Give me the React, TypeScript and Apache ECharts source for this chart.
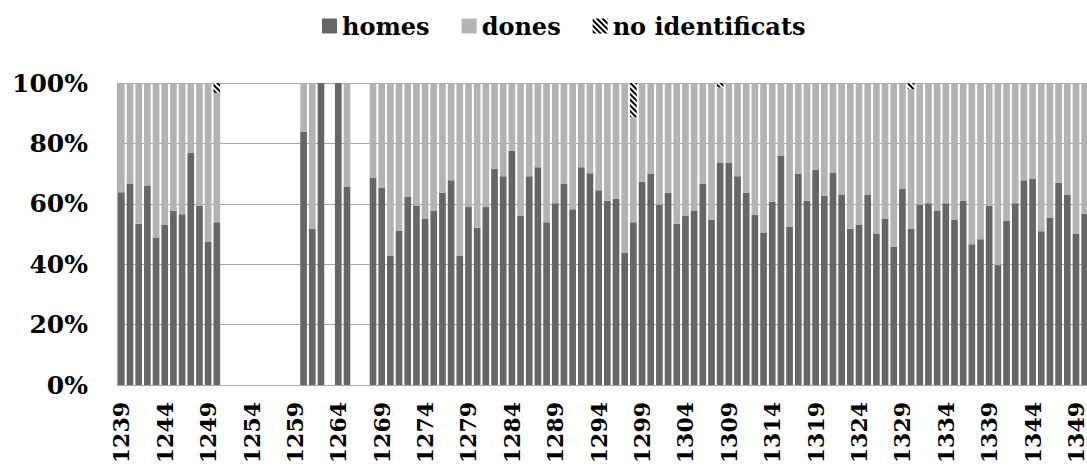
import React, { useEffect, useRef } from "react";
import * as echarts from "echarts";

const years: string[] = [
  "1239","1240","1241","1242","1243","1244","1245","1246","1247","1248",
  "1249","1250","1251","1252","1253","1254","1255","1256","1257","1258",
  "1259","1260","1261","1262","1263","1264","1265","1266","1267","1268",
  "1269","1270","1271","1272","1273","1274","1275","1276","1277","1278",
  "1279","1280","1281","1282","1283","1284","1285","1286","1287","1288",
  "1289","1290","1291","1292","1293","1294","1295","1296","1297","1298",
  "1299","1300","1301","1302","1303","1304","1305","1306","1307","1308",
  "1309","1310","1311","1312","1313","1314","1315","1316","1317","1318",
  "1319","1320","1321","1322","1323","1324","1325","1326","1327","1328",
  "1329","1330","1331","1332","1333","1334","1335","1336","1337","1338",
  "1339","1340","1341","1342","1343","1344","1345","1346","1347","1348",
  "1349","1350",
];

// percentages, index 0 = 1239
const homes: (number | null)[] = [
  63.8, 66.7, 53.4, 65.9, 48.8, 53.0, 57.7, 56.5, 76.8, 59.4,
  47.5, 53.9, null, null, null, null, null, null, null, null,
  null, 83.9, 51.7, 100, null, 100, 65.7, null, null, 68.7,
  65.2, 42.7, 51.0, 62.3, 59.4, 55.1, 57.6, 63.6, 67.8, 42.7,
  58.9, 52.1, 58.9, 71.6, 69.1, 77.6, 56.0, 69.1, 72.1, 53.9,
  60.2, 66.7, 58.2, 72.1, 70.1, 64.5, 61.0, 61.6, 43.7, 53.9,
  67.3, 70.0, 59.7, 63.6, 53.4, 56.0, 57.6, 66.6, 54.6, 73.7,
  73.7, 69.1, 63.6, 56.3, 50.3, 60.6, 75.9, 52.5, 70.0, 61.0,
  71.2, 62.7, 70.4, 63.1, 51.7, 53.0, 63.1, 50.0, 55.1, 45.7,
  64.9, 51.7, 59.7, 60.2, 57.6, 60.2, 54.6, 61.0, 46.6, 48.3,
  59.4, 39.7, 54.3, 60.2, 67.8, 68.2, 50.9, 55.5, 67.0, 63.1,
  50.0, 56.8,
];

const dones: (number | null)[] = [
  36.2, 33.3, 46.6, 34.1, 51.2, 47.0, 42.3, 43.5, 23.2, 40.6,
  52.5, 42.8, null, null, null, null, null, null, null, null,
  null, 16.1, 48.3, 0, null, 0, 34.3, null, null, 31.3,
  34.8, 57.3, 49.0, 37.7, 40.6, 44.9, 42.4, 36.4, 32.2, 57.3,
  41.1, 47.9, 41.1, 28.4, 30.9, 22.4, 44.0, 30.9, 27.9, 46.1,
  39.8, 33.3, 41.8, 27.9, 29.9, 35.5, 39.0, 38.4, 56.3, 34.8,
  32.7, 30.0, 40.3, 36.4, 46.6, 44.0, 42.4, 33.4, 45.4, 24.8,
  26.3, 30.9, 36.4, 43.7, 49.7, 39.4, 24.1, 47.5, 30.0, 39.0,
  28.8, 37.3, 29.6, 36.9, 48.3, 47.0, 36.9, 50.0, 44.9, 54.3,
  35.1, 46.3, 40.3, 39.8, 42.4, 39.8, 45.4, 39.0, 53.4, 51.7,
  40.6, 60.3, 45.7, 39.8, 32.2, 31.8, 49.1, 44.5, 33.0, 36.9,
  50.0, 43.2,
];

const noIdent: (number | null)[] = [
  null, null, null, null, null, null, null, null, null, null,
  null, 3.3, null, null, null, null, null, null, null, null,
  null, null, null, null, null, null, null, null, null, null,
  null, null, null, null, null, null, null, null, null, null,
  null, null, null, null, null, null, null, null, null, null,
  null, null, null, null, null, null, null, null, null, 11.3,
  null, null, null, null, null, null, null, null, null, 1.5,
  null, null, null, null, null, null, null, null, null, null,
  null, null, null, null, null, null, null, null, null, null,
  null, 2.0, null, null, null, null, null, null, null, null,
  null, null, null, null, null, null, null, null, null, null,
  null, null,
];

const yTicks = [0, 20, 40, 60, 80, 100];

const FONT = "DejaVu Serif";

export default function App() {
  const ref = useRef<HTMLDivElement>(null);
  useEffect(() => {
    if (!ref.current) return;
    const chart = echarts.init(ref.current, undefined, { renderer: "svg" });
    chart.setOption({
      animation: false,
      backgroundColor: "#ffffff",
      textStyle: { fontFamily: FONT },
      legend: {
        left: 322,
        top: 14,
        padding: 0,
        itemWidth: 15,
        itemHeight: 15,
        itemGap: 32,
        icon: "rect",
        textStyle: { fontFamily: FONT, fontWeight: "bold", fontSize: 24, color: "#000" },
        data: ["homes", "dones", "no identificats"],
      },
      grid: {
        left: 117,
        right: -2,
        top: 83,
        bottom: 81,
        containLabel: false,
        outerBoundsMode: "none",
      },
      xAxis: {
        type: "category",
        data: years,
        axisLine: { show: true, lineStyle: { color: "#a6a6a6", width: 1 } },
        axisTick: { show: false },
        axisLabel: {
          interval: 4,
          rotate: 90,
          margin: 17,
          fontFamily: FONT,
          fontWeight: "bold",
          fontSize: 22,
          lineHeight: 14,
          color: "#000",
        },
      },
      yAxis: {
        type: "value",
        min: yTicks[0],
        max: yTicks[yTicks.length - 1],
        interval: 20,
        axisLine: { show: true, lineStyle: { color: "#a6a6a6", width: 1 } },
        axisTick: { show: false },
        splitLine: { show: true, lineStyle: { color: "#a6a6a6", width: 1 } },
        axisLabel: {
          formatter: "{value}%",
          margin: 29,
          fontFamily: FONT,
          fontWeight: "bold",
          fontSize: 25,
          color: "#000",
        },
      },
      series: [
        {
          name: "homes",
          type: "bar",
          stack: "total",
          barCategoryGap: "23%",
          itemStyle: { color: "#666666" },
          data: homes,
        },
        {
          name: "dones",
          type: "bar",
          stack: "total",
          barCategoryGap: "23%",
          itemStyle: { color: "#b3b3b3" },
          data: dones,
        },
        {
          name: "no identificats",
          type: "bar",
          stack: "total",
          barCategoryGap: "23%",
          itemStyle: {
            color: "#ffffff",
            decal: {
              symbol: "rect",
              symbolSize: 1,
              dashArrayX: [1, 0],
              dashArrayY: [1.2, 1.6],
              rotation: Math.PI / 4,
              color: "#000000",
              backgroundColor: "#ffffff",
            },
          },
          data: noIdent,
        },
      ],
    });
    return () => chart.dispose();
  }, []);
  return (
    <div
      ref={ref}
      style={{ position: "fixed", left: 0, top: 0, width: 1087, height: 466 }}
    />
  );
}
